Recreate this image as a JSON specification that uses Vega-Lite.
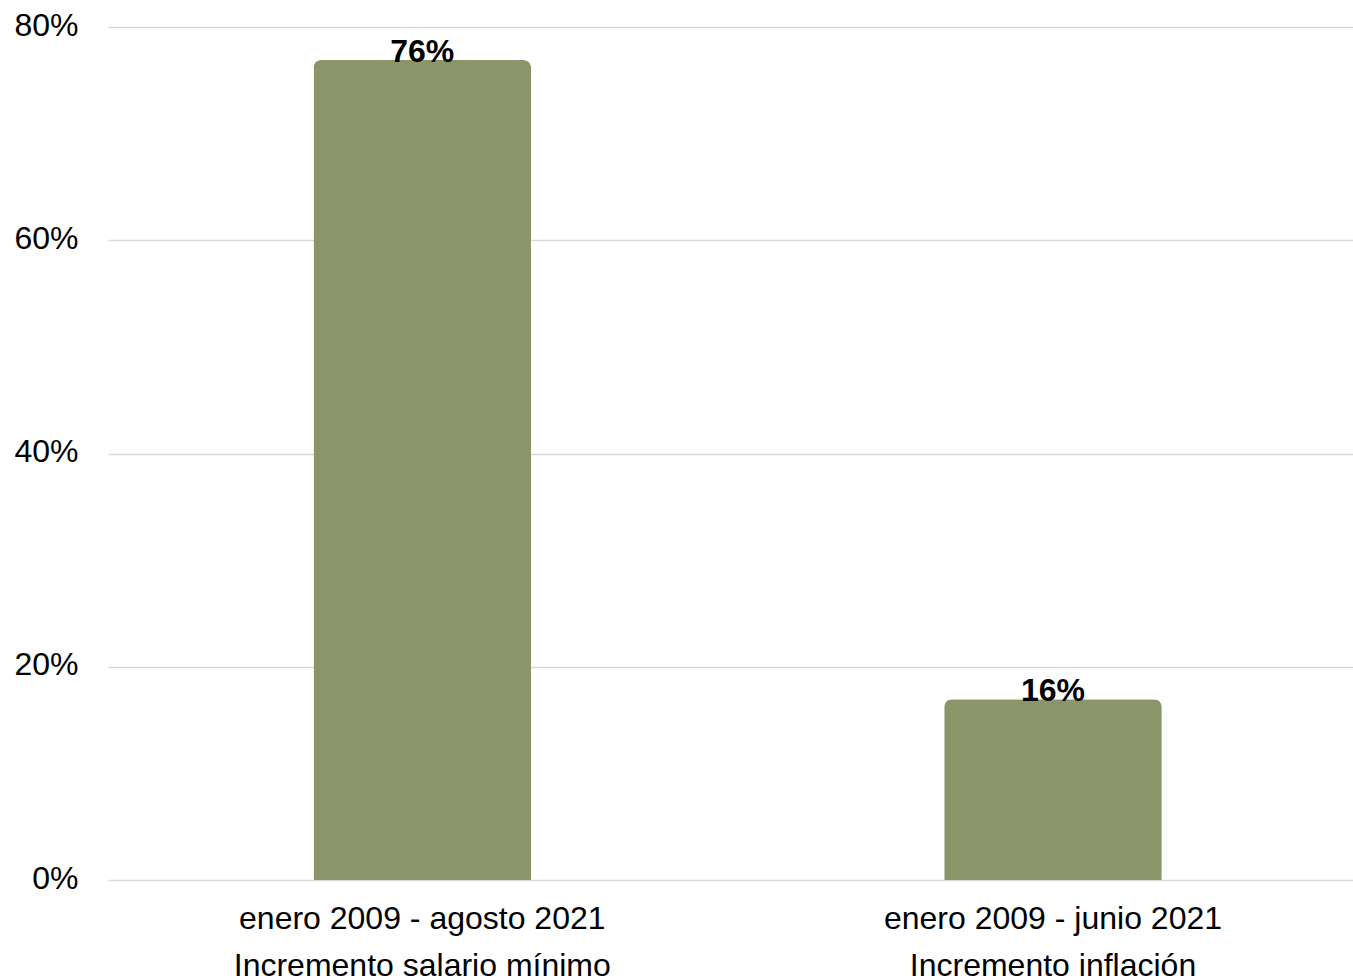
{
  "$schema": "https://vega.github.io/schema/vega-lite/v6.json",
  "width": 1245,
  "height": 853,
  "autosize": "none",
  "padding": {"left": 108, "top": 27, "right": 0, "bottom": 99},
  "background": "white",
  "config": {
    "view": {"stroke": null},
    "font": "Liberation Sans"
  },
  "data": {
    "values": [
      {"categoria": "enero 2009 - agosto 2021\nIncremento salario mínimo", "valor": 0.769, "etiqueta": "76%"},
      {"categoria": "enero 2009 - junio 2021\nIncremento inflación", "valor": 0.1695, "etiqueta": "16%"}
    ]
  },
  "encoding": {
    "x": {
      "field": "categoria",
      "type": "nominal",
      "sort": null,
      "scale": {"paddingInner": 0.655, "paddingOuter": 0.3145, "align": 0.518},
      "axis": {
        "title": null,
        "labelAngle": 0,
        "labelExpr": "split(datum.label, '\\n')",
        "labelFont": "Liberation Sans",
        "labelFontSize": 32,
        "labelColor": "#000000",
        "labelLineHeight": 47,
        "labelPadding": 23,
        "ticks": false,
        "tickSize": 0,
        "domain": false,
        "grid": false,
        "labelLimit": 0
      }
    },
    "y": {
      "field": "valor",
      "type": "quantitative",
      "scale": {"domain": [0, 0.8]},
      "axis": {
        "title": null,
        "values": [0, 0.2, 0.4, 0.6, 0.8],
        "format": ".0%",
        "labelFont": "Liberation Sans",
        "labelFontSize": 32,
        "labelColor": "#000000",
        "labelPadding": 30,
        "labelOffset": -2,
        "ticks": false,
        "tickSize": 0,
        "domain": false,
        "grid": true,
        "gridColor": "#d9d9d9",
        "gridWidth": 1.5
      }
    }
  },
  "layer": [
    {
      "mark": {
        "type": "bar",
        "color": "#8a966a",
        "cornerRadiusTopLeft": 8,
        "cornerRadiusTopRight": 8
      }
    },
    {
      "mark": {
        "type": "text",
        "font": "Liberation Sans",
        "fontSize": 32,
        "fontWeight": "bold",
        "color": "#000000",
        "baseline": "alphabetic",
        "align": "center",
        "dy": 2
      },
      "encoding": {
        "text": {"field": "etiqueta", "type": "nominal"}
      }
    }
  ]
}
